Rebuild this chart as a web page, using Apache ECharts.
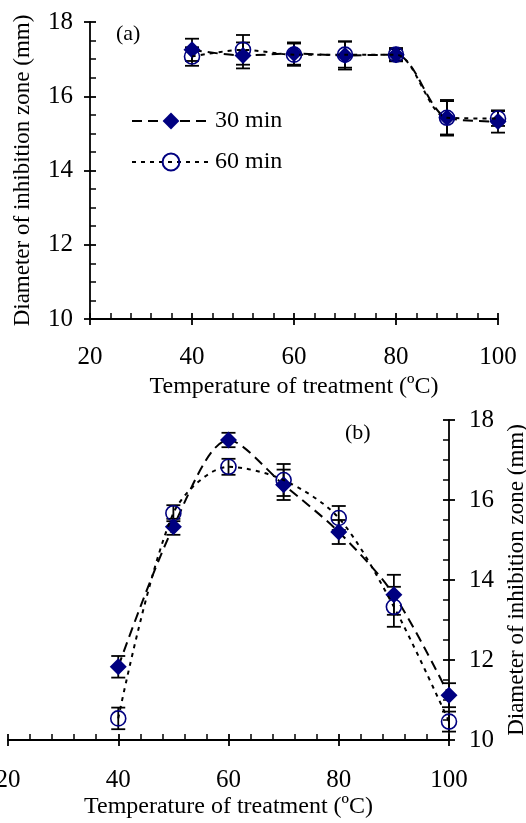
<!DOCTYPE html>
<html>
<head>
<meta charset="utf-8">
<script src="https://cdn.jsdelivr.net/npm/echarts@6/dist/echarts.min.js"></script>
<style>
  html, body { margin: 0; padding: 0; background: #fff; }
  #main { width: 526px; height: 823px; }
</style>
</head>
<body>
<div id="main"></div>
<script>
const chart = echarts.init(document.querySelector('#main'));

// temperatures (ºC)
const temps = [40, 50, 60, 70, 80, 90, 100];

// panel (a)
const a30 = [17.25, 17.1, 17.15, 17.1, 17.12, 15.42, 15.32];
const a30Err = [0.3, 0.35, 0.3, 0.38, 0.18, 0.48, 0.3];
const a60 = [17.07, 17.25, 17.12, 17.12, 17.12, 15.42, 15.4];
const a60Err = [0.25, 0.4, 0.3, 0.35, 0.15, 0.45, 0.2];

// panel (b)
const b30 = [11.83, 15.33, 17.5, 16.38, 15.2, 13.63, 11.12];
const b30Err = [0.27, 0.2, 0.18, 0.38, 0.3, 0.5, 0.3];
const b60 = [10.54, 15.67, 16.83, 16.5, 15.55, 13.33, 10.46];
const b60Err = [0.27, 0.2, 0.2, 0.4, 0.3, 0.5, 0.25];

const xTicks = [20, 40, 60, 80, 100];
const yTicks = [10, 12, 14, 16, 18];

const FONT = 'Liberation Serif';
const NAVY = '#000080';

const pairs = (xs, ys) => xs.map((x, i) => [x, ys[i]]);
const errData = (xs, ys, es) => xs.map((x, i) => [x, ys[i] - es[i], ys[i] + es[i]]);

function errorBar(params, api) {
    const top = api.coord([api.value(0), api.value(2)]);
    const bot = api.coord([api.value(0), api.value(1)]);
    const w = 7;
    const style = { stroke: '#000', lineWidth: 1.8 };
    return {
        type: 'group',
        children: [
            { type: 'line', shape: { x1: top[0], y1: top[1], x2: bot[0], y2: bot[1] }, style },
            { type: 'line', shape: { x1: top[0] - w, y1: top[1], x2: top[0] + w, y2: top[1] }, style },
            { type: 'line', shape: { x1: bot[0] - w, y1: bot[1], x2: bot[0] + w, y2: bot[1] }, style }
        ]
    };
}

// outer axis: labels + outward half of major ticks
function xMain(grid, nameGap, margin) {
    return {
        type: 'value', gridIndex: grid, position: 'bottom',
        min: xTicks[0], max: xTicks[xTicks.length - 1], interval: 20,
        name: 'Temperature of treatment (ºC)', nameLocation: 'middle', nameGap: nameGap,
        nameTextStyle: { fontFamily: FONT, fontSize: 24, color: '#000' },
        axisLine: { show: true, lineStyle: { color: '#000', width: 1.8 } },
        axisTick: { show: true, inside: false, length: 6, lineStyle: { color: '#000', width: 1.8 } },
        axisLabel: { fontFamily: FONT, fontSize: 25, color: '#000', margin: margin },
        splitLine: { show: false }
    };
}
// inner axis: inward major + minor ticks
function xInner(grid) {
    return {
        type: 'value', gridIndex: grid, position: 'bottom',
        min: xTicks[0], max: xTicks[xTicks.length - 1], interval: 20,
        axisLine: { show: false },
        axisTick: { show: true, inside: true, length: 6, lineStyle: { color: '#000', width: 1.8 } },
        minorTick: { show: true, splitNumber: 5, length: 6, lineStyle: { color: '#000', width: 1.5 } },
        axisLabel: { show: false },
        splitLine: { show: false }
    };
}
function yMain(grid, pos, nameGap, margin) {
    return {
        type: 'value', gridIndex: grid, position: pos,
        min: yTicks[0], max: yTicks[yTicks.length - 1], interval: 2,
        name: 'Diameter of inhibition zone (mm)', nameLocation: 'middle', nameGap: nameGap,
        nameTextStyle: { fontFamily: FONT, fontSize: 23, color: '#000' },
        axisLine: { show: true, lineStyle: { color: '#000', width: 1.8 } },
        axisTick: { show: true, inside: false, length: 6, lineStyle: { color: '#000', width: 1.8 } },
        axisLabel: { fontFamily: FONT, fontSize: 25, color: '#000', margin: margin },
        splitLine: { show: false }
    };
}
function yInner(grid, pos) {
    return {
        type: 'value', gridIndex: grid, position: pos,
        min: yTicks[0], max: yTicks[yTicks.length - 1], interval: 2,
        axisLine: { show: false },
        axisTick: { show: true, inside: true, length: 6, lineStyle: { color: '#000', width: 1.8 } },
        minorTick: { show: true, splitNumber: 4, length: 6, lineStyle: { color: '#000', width: 1.5 } },
        axisLabel: { show: false },
        splitLine: { show: false }
    };
}

function diamondLine(name, data, xi, yi) {
    return {
        name: name, type: 'line', xAxisIndex: xi, yAxisIndex: yi, data: data, smooth: 0.3,
        symbol: 'diamond', symbolSize: 17, z: 3,
        itemStyle: { color: NAVY },
        lineStyle: { color: '#000', width: 2, type: [10, 6] }
    };
}
function circleLine(name, data, xi, yi) {
    return {
        name: name, type: 'line', xAxisIndex: xi, yAxisIndex: yi, data: data, smooth: 0.3,
        symbol: 'circle', symbolSize: 15, z: 4,
        itemStyle: { color: 'rgba(0,0,0,0)', borderColor: NAVY, borderWidth: 1.6 },
        lineStyle: { color: '#000', width: 2, type: [4, 5] }
    };
}
function errSeries(data, xi, yi) {
    return {
        type: 'custom', xAxisIndex: xi, yAxisIndex: yi, data: data, renderItem: errorBar, z: 2, silent: true
    };
}

let option = {
    backgroundColor: '#fff',
    animation: false,
    grid: [
        { left: 90, width: 408, top: 22, height: 297, outerBoundsMode: 'none' },
        { left: 8, width: 441, top: 420, height: 320, outerBoundsMode: 'none' }
    ],
    xAxis: [xMain(0, 56, 26), xInner(0), xMain(1, 55, 28), xInner(1)],
    yAxis: [yMain(0, 'left', 56, 17), yInner(0, 'left'), yMain(1, 'right', 56, 20), yInner(1, 'right')],
    legend: {
        data: ['30 min', '60 min'],
        orient: 'vertical', left: 126, top: 104,
        itemWidth: 78, itemHeight: 21, itemGap: 17,
        textStyle: { fontFamily: FONT, fontSize: 24, color: '#000' }
    },
    graphic: [
        { type: 'text', left: 116, top: 23, style: { text: '(a)', font: '22px "Liberation Serif"', fill: '#000' } },
        { type: 'text', left: 345, top: 422, style: { text: '(b)', font: '22px "Liberation Serif"', fill: '#000' } }
    ],
    series: [
        errSeries(errData(temps, a30, a30Err), 0, 0),
        errSeries(errData(temps, a60, a60Err), 0, 0),
        diamondLine('30 min', pairs(temps, a30), 0, 0),
        circleLine('60 min', pairs(temps, a60), 0, 0),
        errSeries(errData(temps, b30, b30Err), 2, 2),
        errSeries(errData(temps, b60, b60Err), 2, 2),
        diamondLine('30 min', pairs(temps, b30), 2, 2),
        circleLine('60 min', pairs(temps, b60), 2, 2)
    ]
};

chart.setOption(option);
</script>
</body>
</html>
